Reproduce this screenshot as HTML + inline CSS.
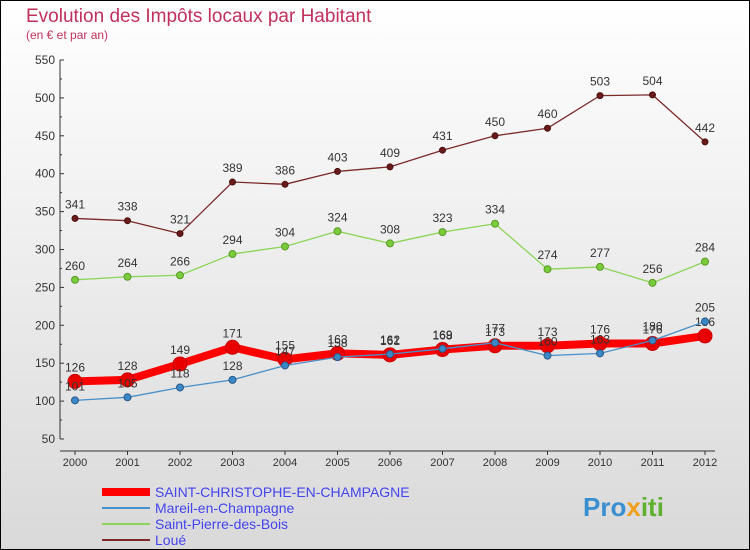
<!DOCTYPE html>
<html><head><meta charset="utf-8"><style>
body{margin:0;}
svg{display:block;font-family:"Liberation Sans",sans-serif;}
</style></head><body>
<svg id="c" width="750" height="550" xmlns="http://www.w3.org/2000/svg">
<defs><linearGradient id="bg" x1="0" y1="0" x2="0" y2="1"><stop offset="0" stop-color="#ffffff"/><stop offset="1" stop-color="#d9d9d9"/></linearGradient></defs>
<rect x="0.5" y="0.5" width="749" height="549" fill="url(#bg)" stroke="#000"/>
<text x="26" y="22" font-size="19" fill="#c0305a">Evolution des Impôts locaux par Habitant</text>
<text x="26" y="39" font-size="12" fill="#c0305a">(en € et par an)</text>
<g id="axes"></g><g id="series"></g>
<g>
<line x1="102" y1="492" x2="150" y2="492" stroke="#f00" stroke-width="8"/>
<text x="155" y="497" font-size="14" fill="#4444ee">SAINT-CHRISTOPHE-EN-CHAMPAGNE</text>
<line x1="102" y1="508" x2="150" y2="508" stroke="#4a90c8" stroke-width="2"/>
<text x="155" y="513" font-size="14" fill="#4444ee">Mareil-en-Champagne</text>
<line x1="102" y1="524" x2="150" y2="524" stroke="#8ed45a" stroke-width="2"/>
<text x="155" y="529" font-size="14" fill="#4444ee">Saint-Pierre-des-Bois</text>
<line x1="102" y1="540" x2="150" y2="540" stroke="#7a2a2a" stroke-width="2"/>
<text x="155" y="545" font-size="14" fill="#4444ee">Loué</text>
</g>
<text x="583" y="516" font-size="26" font-weight="bold" fill="#3a8fd0">Pro<tspan fill="#f0a020">x</tspan><tspan fill="#60b030">iti</tspan></text>
</svg>
<script>
const years=["2000","2001","2002","2003","2004","2005","2006","2007","2008","2009","2010","2011","2012"];
const yTicks=[50,100,150,200,250,300,350,400,450,500,550];
const loue=[341,338,321,389,386,403,409,431,450,460,503,504,442];
const saintPierre=[260,264,266,294,304,324,308,323,334,274,277,256,284];
const mareil=[101,105,118,128,147,158,162,169,177,160,163,180,205];
const saintChristophe=[126,128,149,171,155,163,161,168,173,173,176,176,186];
const NS="http://www.w3.org/2000/svg";
const x0=75,x1=705,yTop=60,yBot=439,vMin=50,vMax=550;
const X=i=>x0+i*(x1-x0)/(years.length-1);
const Y=v=>yBot-(v-vMin)*(yBot-yTop)/(vMax-vMin);
function mk(t,a,p){const e=document.createElementNS(NS,t);for(const k in a)e.setAttribute(k,a[k]);p.appendChild(e);return e;}
const ax=document.getElementById('axes'),sg=document.getElementById('series');
let e=mk('line',{x1:60,y1:yTop,x2:60,y2:yBot,stroke:'#333'},ax);

e=mk('line',{x1:60,y1:yBot+12,x2:x1+10,y2:yBot+12,stroke:'#333'},ax);

yTicks.forEach(v=>{const y=Y(v);
 mk('line',{x1:60,y1:y,x2:64,y2:y,stroke:'#333'},ax);
 if(v<550){mk('line',{x1:60,y1:y+Y(v+25)-y,x2:62,y2:y+Y(v+25)-y,stroke:'#333'},ax);}
 const t=mk('text',{x:55,y:y+4,'font-size':12,fill:'#333','text-anchor':'end'},ax);t.textContent=v;
 });
years.forEach((yr,i)=>{const x=X(i);
 mk('line',{x1:x,y1:yBot+12,x2:x,y2:yBot+16,stroke:'#333'},ax);
 const t=mk('text',{x:x,y:yBot+27,'font-size':11,fill:'#333','text-anchor':'middle'},ax);t.textContent=yr;
 });
function series(vals,name,color,w,r,dot,ms){
 const g=mk('g',{},sg);
 mk('polyline',{points:vals.map((v,i)=>X(i)+','+Y(v)).join(' '),fill:'none',stroke:color,'stroke-width':w,'stroke-linejoin':'round'},g);
 vals.forEach((v,i)=>{const c=mk('circle',{cx:X(i),cy:Y(v),r:r,fill:dot,stroke:ms,'stroke-width':1},g);
  
  const t=mk('text',{x:X(i),y:Y(v)-10,'font-size':12,fill:'#333','text-anchor':'middle'},g);t.textContent=v;
  });
}
series(loue,'loue','#7a2a2a',1.3,3,'#6a1a1a','#4a1010');
series(saintPierre,'saint-pierre','#8ed45a',1.3,3.5,'#7acc3a','#5a9a2a');
series(saintChristophe,'saint-christophe','#f00',8,7,'#e80000','#c00');
series(mareil,'mareil','#4a90c8',1.3,3.5,'#3a88c8','#2a5a8a');
</script>
</body></html>
